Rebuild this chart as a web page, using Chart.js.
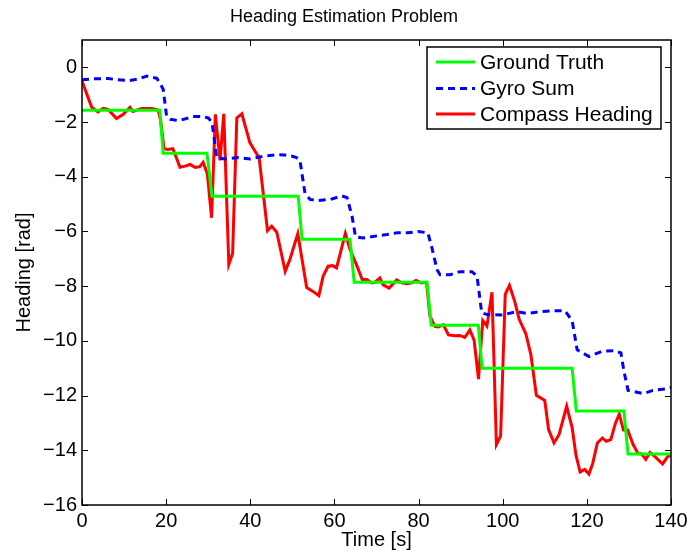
<!DOCTYPE html>
<html>
<head>
<meta charset="utf-8">
<script src="https://cdn.jsdelivr.net/npm/chart.js@4/dist/chart.umd.min.js"></script>
<style>
  html, body { margin: 0; padding: 0; background: #fff; }
  canvas { display: block; }
</style>
</head>
<body>
<canvas id="c" width="688" height="555" style="width:688px;height:555px"></canvas>
<script>
// ---- data ----
const titleText = 'Heading Estimation Problem';
const xTitle = 'Time [s]';
const yTitle = 'Heading [rad]';
const seriesNames = ['Ground Truth', 'Gyro Sum', 'Compass Heading'];
const xTicks = [0, 20, 40, 60, 80, 100, 120, 140];
const yTicks = [-16, -14, -12, -10, -8, -6, -4, -2, 0];

const truthT = [0, 18.5, 19.3, 29.7, 30.9, 51.4, 52.3, 63.7, 64.7, 82.0, 83.0, 94.2, 95.1, 116.5, 117.5, 128.8, 129.8, 140];
const truthY = [-1.571, -1.571, -3.142, -3.142, -4.712, -4.712, -6.283, -6.283, -7.854, -7.854, -9.425, -9.425, -10.996, -10.996, -12.566, -12.566, -14.137, -14.137];

const gyroT = [0, 3, 6.2, 8.5, 11.4, 13.5, 15.4, 17.8, 19.3, 20.1, 21, 23, 26.4, 28.8, 30.0, 30.9, 32, 34, 37, 40, 43, 46.3, 48, 50, 51, 51.8, 53, 54.2, 55.8, 59, 61.8, 63, 64.2, 65, 66.8, 69.2, 72.5, 74.9, 77.5, 79.9, 82.2, 83.1, 84.4, 85.1, 87.5, 89.8, 92.7, 93.9, 95, 96.3, 100, 103.4, 106, 108, 111.6, 114.8, 116.5, 117.7, 120.5, 123.7, 126.5, 128.1, 128.8, 129.8, 133.4, 135.7, 139, 140];
const gyroY = [-0.45, -0.42, -0.41, -0.45, -0.48, -0.42, -0.32, -0.4, -0.8, -1.78, -1.9, -1.95, -1.8, -1.8, -1.85, -2.0, -3.3, -3.35, -3.3, -3.35, -3.25, -3.19, -3.2, -3.25, -3.3, -3.4, -4.6, -4.83, -4.87, -4.83, -4.7, -4.76, -5.45, -6.19, -6.24, -6.18, -6.11, -6.05, -6.05, -6.0, -6.05, -6.55, -7.4, -7.58, -7.58, -7.47, -7.47, -7.64, -8.97, -9.04, -9.05, -8.93, -9.0, -8.95, -8.9, -8.9, -9.26, -10.33, -10.57, -10.38, -10.36, -10.44, -11.1, -11.81, -11.93, -11.81, -11.75, -11.7];

const compassT = [0, 2.3, 3.8, 5, 6.2, 8.2, 9.8, 11.4, 12.1, 14.2, 16.6, 18.1, 18.7, 19.5, 20.4, 21.6, 23.3, 24.5, 25.7, 26.9, 28, 28.8, 29.8, 30.8, 31.7, 32.8, 33.7, 34.9, 35.8, 36.8, 38, 39.9, 41.1, 42.1, 44.1, 45.1, 46.3, 48.3, 49.4, 51.3, 53.4, 54.9, 56.3, 57.3, 58.5, 59.6, 60.5, 62.6, 63.7, 65.3, 66.6, 67.7, 68.9, 69.6, 70.8, 71.6, 73, 74.8, 76, 77.2, 78.4, 79.4, 80.7, 81.9, 82.7, 83.9, 84.7, 85.9, 87.1, 88.7, 89.8, 91, 92.2, 93.2, 94.25, 95.25, 96.25, 97.45, 98.5, 99.5, 100.6, 101.6, 102.9, 103.9, 105.5, 106.7, 108, 110, 110.9, 112.2, 113.4, 115.2, 116.5, 117.4, 118.4, 119.5, 120.5, 121.4, 122.5, 123.7, 124.6, 125.7, 126.8, 127.7, 128.7, 129.7, 131, 132.2, 133, 134, 135, 136.2, 138, 139.2, 140];
const compassY = [-0.5, -1.46, -1.63, -1.5, -1.54, -1.87, -1.72, -1.46, -1.61, -1.5, -1.5, -1.56, -1.96, -2.97, -3.0, -2.97, -3.65, -3.61, -3.55, -3.66, -3.63, -3.47, -3.9, -5.5, -1.72, -3.4, -1.7, -7.2, -6.8, -1.85, -1.7, -2.75, -3.06, -3.3, -5.97, -5.81, -6.03, -7.46, -7.03, -6.08, -8.05, -8.19, -8.35, -7.64, -7.27, -7.25, -7.33, -6.07, -6.66, -7.24, -7.76, -7.76, -7.88, -7.86, -7.7, -7.95, -8.07, -7.77, -7.88, -7.91, -7.88, -7.79, -7.88, -7.86, -9.1, -9.47, -9.49, -9.41, -9.78, -9.81, -9.8, -9.87, -9.6, -9.97, -11.4, -9.26, -9.46, -8.22, -13.79, -13.47, -8.3, -7.97, -8.58, -9.2, -9.74, -10.51, -11.99, -12.18, -13.24, -13.73, -13.42, -12.39, -13.17, -14.17, -14.79, -14.7, -14.87, -14.48, -13.73, -13.55, -13.67, -13.61, -13.01, -12.68, -13.26, -13.26, -13.79, -14.13, -14.13, -14.33, -14.08, -14.23, -14.5, -14.23, -14.17];

// ---- chart ----
const FONT = '"Liberation Sans", Arial, Helvetica, sans-serif';
const zip = (t, y) => t.map((v, i) => ({ x: v, y: y[i] }));
const fmt = v => (v < 0 ? '\u2212' + Math.abs(v) : String(v));

const boxPlugin = {
  id: 'matlabBox',
  afterDraw(chart) {
    const { ctx, chartArea: a, scales } = chart;
    ctx.save();
    ctx.strokeStyle = '#000';
    ctx.lineWidth = 1.5;
    ctx.strokeRect(a.left, a.top, a.right - a.left, a.bottom - a.top);
    const tl = 6;
    ctx.beginPath();
    xTicks.forEach(v => {
      const px = Math.round(scales.x.getPixelForValue(v)) + 0.5;
      ctx.moveTo(px, a.bottom); ctx.lineTo(px, a.bottom - tl);
      ctx.moveTo(px, a.top); ctx.lineTo(px, a.top + tl);
    });
    yTicks.forEach(v => {
      const py = Math.round(scales.y.getPixelForValue(v)) + 0.5;
      ctx.moveTo(a.left, py); ctx.lineTo(a.left + tl, py);
      ctx.moveTo(a.right, py); ctx.lineTo(a.right - tl, py);
    });
    ctx.lineWidth = 1;
    ctx.stroke();
    // title
    ctx.fillStyle = '#000';
    ctx.font = '18px ' + FONT;
    ctx.textAlign = 'center';
    ctx.textBaseline = 'middle';
    ctx.fillText(titleText, chart.width / 2, 17);
    // legend
    const lx = 427, ly = 47, lw = 234, lh = 82;
    ctx.fillStyle = '#fff';
    ctx.fillRect(lx, ly, lw, lh);
    ctx.strokeStyle = '#000';
    ctx.lineWidth = 1.5;
    ctx.strokeRect(lx, ly, lw, lh);
    const rows = [62, 88.5, 114];
    chart.data.datasets.forEach((ds, i) => {
      const y = rows[i];
      ctx.beginPath();
      ctx.strokeStyle = ds.borderColor;
      ctx.lineWidth = ds.borderWidth;
      ctx.setLineDash(ds.borderDash || []);
      ctx.moveTo(436, y); ctx.lineTo(475, y);
      ctx.stroke();
      ctx.setLineDash([]);
      ctx.fillStyle = '#000';
      ctx.font = '21px ' + FONT;
      ctx.textAlign = 'left';
      ctx.textBaseline = 'middle';
      ctx.fillText(ds.label, 480, y + 1);
    });
    ctx.restore();
  }
};

new Chart(document.getElementById('c'), {
  type: 'line',
  data: {
    datasets: [
      { label: seriesNames[0], data: zip(truthT, truthY), borderColor: '#00ff00', borderWidth: 3, pointRadius: 0, tension: 0, fill: false },
      { label: seriesNames[1], data: zip(gyroT, gyroY), borderColor: '#0000ff', borderWidth: 3, borderDash: [7, 5], pointRadius: 0, tension: 0, fill: false },
      { label: seriesNames[2], data: zip(compassT, compassY), borderColor: '#ff0000', borderWidth: 3, pointRadius: 0, tension: 0, fill: false }
    ]
  },
  options: {
    responsive: false,
    animation: false,
    devicePixelRatio: 1,
    layout: { padding: { left: 0, top: 40, right: 17, bottom: 0 } },
    plugins: { legend: { display: false }, title: { display: false }, tooltip: { enabled: false } },
    scales: {
      x: {
        type: 'linear', min: 0, max: 140,
        grid: { display: false, drawTicks: false },
        border: { display: false },
        ticks: { padding: 4, color: '#000', font: { size: 20, family: FONT }, maxRotation: 0, autoSkip: false, callback: fmt },
        title: { display: true, text: xTitle, color: '#000', font: { size: 20, family: FONT }, padding: { top: 0, bottom: 3 } },
        afterBuildTicks: s => { s.ticks = xTicks.map(v => ({ value: v })); },
        afterFit: s => { s.height = 50; s.paddingLeft = 0; s.paddingRight = 0; }
      },
      y: {
        type: 'linear', min: -16, max: 1,
        grid: { display: false, drawTicks: false },
        border: { display: false },
        ticks: { padding: 5, color: '#000', font: { size: 20, family: FONT }, autoSkip: false, callback: fmt },
        title: { display: true, text: yTitle, color: '#000', font: { size: 20, family: FONT }, padding: { top: 12, bottom: 0 } },
        afterBuildTicks: s => { s.ticks = yTicks.map(v => ({ value: v })); },
        afterFit: s => { s.width = 82; s.paddingTop = 0; s.paddingBottom = 0; }
      }
    }
  },
  plugins: [boxPlugin]
});
</script>
</body>
</html>
